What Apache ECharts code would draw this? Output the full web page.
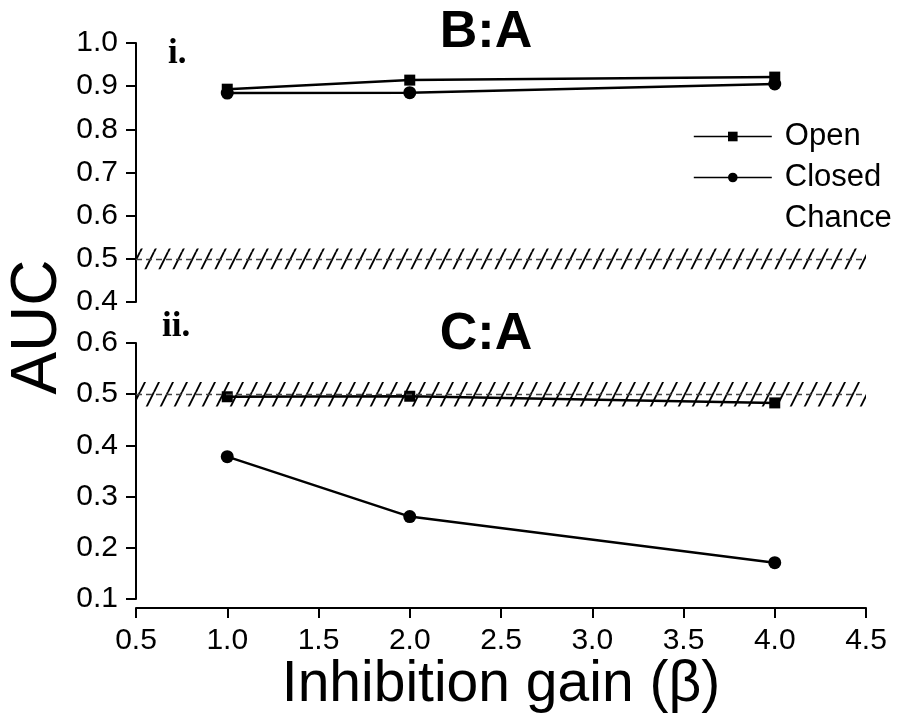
<!DOCTYPE html>
<html>
<head>
<meta charset="utf-8">
<script src="https://cdn.jsdelivr.net/npm/echarts@6/dist/echarts.min.js"></script>
<style>
html,body{margin:0;padding:0;background:#fff;}
#chart{width:900px;height:713px;}
</style>
</head>
<body>
<div id="chart"></div>
<script>
// ---- data ----
var gains = [1.0, 2.0, 4.0];
var openBA = [0.893, 0.914, 0.921];
var closedBA = [0.884, 0.885, 0.905];
var openCA = [0.495, 0.496, 0.483];
var closedCA = [0.378, 0.261, 0.171];
var chanceLevel = 0.5;
var chanceBand = [0.476, 0.524];
var xRange = [0.5, 4.5];
var panelTitles = ['B:A', 'C:A'];
var panelTags = ['i.', 'ii.'];
var seriesNames = ['Open', 'Closed', 'Chance'];

function pairs(xs, ys){ return xs.map(function(x,i){ return [x, ys[i]]; }); }

// hatch pattern
var tile = document.createElement('canvas');
tile.width = 14; tile.height = 28;
var c = tile.getContext('2d');
c.strokeStyle = '#000'; c.lineWidth = 1.9;
c.beginPath();
c.moveTo(0, 28); c.lineTo(14, 0);
c.moveTo(-14, 28); c.lineTo(0, 0);
c.moveTo(14, 28); c.lineTo(28, 0);
c.stroke();
var hatch = {image: tile, repeat: 'repeat'};

var FONT = '"Liberation Sans", Arial, Helvetica, sans-serif';
var SERIF = '"Liberation Serif", "DejaVu Serif", serif';

function chanceSeries(idx){
  return {
    name: seriesNames[2], type: 'line', xAxisIndex: idx, yAxisIndex: idx,
    data: [], symbol: 'none', lineStyle: {opacity: 0, width: 0},
    itemStyle: {color: 'rgba(0,0,0,0)'}, silent: true, z: 1,
    markArea: {
      silent: true,
      itemStyle: {color: hatch, borderWidth: 0},
      data: [[{xAxis: xRange[0], yAxis: chanceBand[0]}, {xAxis: xRange[1], yAxis: chanceBand[1]}]]
    },
    markLine: {
      silent: true, symbol: 'none', label: {show: false},
      lineStyle: {color: '#444', type: [6, 4], width: 1.3},
      data: [[{coord: [xRange[0], chanceLevel]}, {coord: [xRange[1], chanceLevel]}]]
    }
  };
}

function dataSeries(name, idx, ys, sym, size){
  return {
    name: name, type: 'line', xAxisIndex: idx, yAxisIndex: idx,
    data: pairs(gains, ys), symbol: sym, symbolSize: size,
    lineStyle: {color: '#000', width: 2.5}, itemStyle: {color: '#000'}, z: 3
  };
}

var tickLabel = {color: '#000', fontSize: 30, fontFamily: FONT, margin: 18,
  formatter: function(v){ return v.toFixed(1); }};
var axisCommon = {
  axisLine: {show: true, lineStyle: {color: '#000', width: 2}},
  axisTick: {show: true, inside: false, length: 10, lineStyle: {color: '#000', width: 2}},
  splitLine: {show: false}
};

var chart = echarts.init(document.getElementById('chart'));
chart.setOption({
  animation: false,
  backgroundColor: '#fff',
  title: [
    {text: panelTitles[0], left: 481, top: 2, textAlign: 'center',
     textStyle: {fontSize: 52, fontWeight: 'bold', color: '#000', fontFamily: FONT}},
    {text: panelTitles[1], left: 481, top: 304, textAlign: 'center',
     textStyle: {fontSize: 52, fontWeight: 'bold', color: '#000', fontFamily: FONT}}
  ],
  graphic: [
    {type: 'text', left: 168, top: 36, style: {text: panelTags[0], font: 'bold 35px ' + SERIF, fill: '#000'}},
    {type: 'text', left: 162, top: 309, style: {text: panelTags[1], font: 'bold 35px ' + SERIF, fill: '#000'}},
    {type: 'text', x: 38, y: 327, rotation: Math.PI/2, style: {text: 'AUC', font: '64px ' + FONT, fill: '#000', align: 'center', verticalAlign: 'middle'}}
  ],
  legend: {
    data: seriesNames, orient: 'vertical', left: 688, top: 116,
    itemWidth: 78, itemHeight: 12, itemGap: 10, selectedMode: false,
    lineStyle: {width: 1.6},
    textStyle: {fontSize: 31, color: '#000', fontFamily: FONT, lineHeight: 31, padding: [0,0,0,8]}
  },
  grid: [
    {left: 136, right: 34, top: 43, height: 259, outerBoundsMode: 'none', containLabel: false},
    {left: 136, right: 34, top: 343, height: 256, outerBoundsMode: 'none', containLabel: false}
  ],
  xAxis: [
    Object.assign({}, axisCommon, {type: 'value', gridIndex: 0, min: xRange[0], max: xRange[1], interval: 0.5, show: false}),
    Object.assign({}, axisCommon, {type: 'value', gridIndex: 1, min: xRange[0], max: xRange[1], interval: 0.5, offset: 9,
      axisLabel: Object.assign({}, tickLabel, {margin: 18}),
      name: 'Inhibition gain (β)', nameLocation: 'middle', nameGap: 46,
      nameTextStyle: {fontSize: 57, color: '#000', fontFamily: FONT}})
  ],
  yAxis: [
    Object.assign({}, axisCommon, {type: 'value', gridIndex: 0, min: 0.4, max: 1.0, interval: 0.1, axisLabel: tickLabel}),
    Object.assign({}, axisCommon, {type: 'value', gridIndex: 1, min: 0.1, max: 0.6, interval: 0.1, axisLabel: tickLabel})
  ],
  series: [
    dataSeries(seriesNames[0], 0, openBA, 'rect', 11),
    dataSeries(seriesNames[1], 0, closedBA, 'circle', 13),
    chanceSeries(0),
    dataSeries(seriesNames[0], 1, openCA, 'rect', 11),
    dataSeries(seriesNames[1], 1, closedCA, 'circle', 13),
    chanceSeries(1)
  ]
});
</script>
</body>
</html>
